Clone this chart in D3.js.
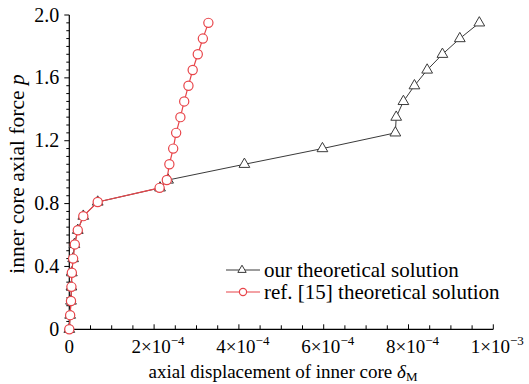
<!DOCTYPE html>
<html>
<head>
<meta charset="utf-8">
<script src="https://cdn.jsdelivr.net/npm/d3@7"></script>
<style>
  body { margin: 0; background: #fff; }
  svg text { font-family: "Times New Roman", "Liberation Serif", Times, serif; }
</style>
</head>
<body>
<svg id="chart" width="529" height="384"></svg>
<script>
// Data (x in units of 1e-4)
const pOur = [0, 0.09, 0.18, 0.27, 0.36, 0.45, 0.54, 0.63, 0.72, 0.81, 0.9, 0.95, 1.05, 1.15, 1.25, 1.35, 1.45, 1.55, 1.65, 1.75, 1.85, 1.95];
const dOur = [0, 0.02, 0.04, 0.05, 0.06, 0.09, 0.12, 0.20, 0.33, 0.67, 2.14, 2.33, 4.13, 5.97, 7.69, 7.71, 7.88, 8.14, 8.44, 8.80, 9.21, 9.67];

const pRef = [0, 0.09, 0.18, 0.27, 0.36, 0.45, 0.54, 0.63, 0.72, 0.81, 0.9, 0.95, 1.05, 1.15, 1.25, 1.35, 1.45, 1.55, 1.65, 1.75, 1.85, 1.95];
const dRef = [0, 0.02, 0.04, 0.05, 0.06, 0.09, 0.13, 0.20, 0.33, 0.67, 2.13, 2.30, 2.36, 2.45, 2.52, 2.62, 2.71, 2.81, 2.91, 3.03, 3.15, 3.28];

const xTickVals = [0, 2, 4, 6, 8, 10];
const xTickLabels = ["0", "2×10", "4×10", "6×10", "8×10", "1×10"];
const xTickExps = ["", "−4", "−4", "−4", "−4", "−3"];
const yTickVals = [0, 0.4, 0.8, 1.2, 1.6, 2.0];
const yTickLabels = ["0", "0.4", "0.8", "1.2", "1.6", "2.0"];

const svg = d3.select("#chart");
const mLeft = 69.3, mRight = 493.3, mTop = 15, mBottom = 329.3;

const x = d3.scaleLinear().domain([0, 10]).range([mLeft, mRight]);
const y = d3.scaleLinear().domain([0, 2]).range([mBottom, mTop]);

const black = "#3a3a3a";
const red = "#e8454a";

// Minor ticks
const xMinor = d3.range(0, 10.001, 0.5);
const yMinor = d3.range(0, 2.001, 0.05);

const xAxis = svg.append("g").attr("transform", `translate(0,${mBottom})`);
xAxis.append("line").attr("x1", mLeft).attr("x2", mRight).attr("stroke", "#000").attr("stroke-width", 1.2);
xAxis.selectAll("line.t").data(xMinor).enter().append("line")
    .attr("class", "t")
    .attr("x1", d => x(d)).attr("x2", d => x(d))
    .attr("y1", 0).attr("y2", d => (Math.abs(d % 2) < 1e-6) ? -5 : -4)
    .attr("stroke", "#000").attr("stroke-width", 1);

const xl = xAxis.selectAll("text.lab").data(xTickVals).enter().append("text")
    .attr("class", "lab")
    .attr("x", d => x(d) + (d > 0 ? 4 : 0))
    .attr("y", 24)
    .attr("text-anchor", "middle")
    .attr("font-size", 19);
xl.append("tspan").text((d, i) => xTickLabels[i]);
xl.append("tspan").attr("dy", -8).attr("font-size", 13).text((d, i) => xTickExps[i]);

const yAxis = svg.append("g").attr("transform", `translate(${mLeft},0)`);
yAxis.append("line").attr("y1", mTop).attr("y2", mBottom + 3).attr("stroke", "#000").attr("stroke-width", 1.2);
yAxis.selectAll("line.t").data(yMinor).enter().append("line")
    .attr("class", "t")
    .attr("y1", d => y(d)).attr("y2", d => y(d))
    .attr("x1", 0).attr("x2", d => (Math.abs((d * 100) % 40) < 1e-3 || Math.abs((d * 100) % 40 - 40) < 1e-3) ? -5 : -3)
    .attr("stroke", "#000").attr("stroke-width", 1);
yAxis.selectAll("text.lab").data(yTickVals).enter().append("text")
    .attr("class", "lab")
    .attr("x", -10)
    .attr("y", d => y(d) + 6.5)
    .attr("text-anchor", "end")
    .attr("font-size", 20)
    .text((d, i) => yTickLabels[i]);

// Axis titles
const xt = svg.append("text").attr("x", 283).attr("y", 378).attr("text-anchor", "middle").attr("font-size", 19);
xt.append("tspan").text("axial displacement of inner core ");
xt.append("tspan").attr("font-style", "italic").text("δ");
xt.append("tspan").attr("font-size", 13).attr("dy", 3).text("M");

const yt = svg.append("text")
    .attr("transform", "translate(24,174) rotate(-90)")
    .attr("text-anchor", "middle").attr("font-size", 21.5);
yt.append("tspan").text("inner core axial force ");
yt.append("tspan").attr("font-style", "italic").text("p");

// Series
const line = d3.line().x(d => x(d[0])).y(d => y(d[1]));
const ourPts = dOur.map((d, i) => [d, pOur[i]]);
const refPts = dRef.map((d, i) => [d, pRef[i]]);
const tri = d3.symbol().type(d3.symbolTriangle).size(50);

svg.append("path").datum(ourPts).attr("d", line).attr("fill", "none").attr("stroke", black).attr("stroke-width", 1);
svg.selectAll("path.tri").data(ourPts).enter().append("path")
    .attr("class", "tri")
    .attr("d", tri)
    .attr("transform", d => `translate(${x(d[0])},${y(d[1])})`)
    .attr("fill", "#fff").attr("stroke", black).attr("stroke-width", 1);

svg.append("path").datum(refPts).attr("d", line).attr("fill", "none").attr("stroke", red).attr("stroke-width", 1.2);
svg.selectAll("circle.ref").data(refPts).enter().append("circle")
    .attr("class", "ref")
    .attr("cx", d => x(d[0])).attr("cy", d => y(d[1]))
    .attr("r", 4.6)
    .attr("fill", "#fff").attr("stroke", red).attr("stroke-width", 1.2);

// Legend
const legend = svg.append("g").attr("transform", "translate(226,270)");
legend.append("line").attr("x1", 0).attr("x2", 34).attr("stroke", black).attr("stroke-width", 1);
legend.append("path").attr("d", d3.symbol().type(d3.symbolTriangle).size(30)).attr("transform", "translate(16,0)")
    .attr("fill", "#fff").attr("stroke", black);
legend.append("text").attr("x", 38).attr("y", 7).attr("font-size", 21).text("our theoretical solution");
legend.append("line").attr("x1", 0).attr("x2", 34).attr("y1", 22).attr("y2", 22).attr("stroke", red).attr("stroke-width", 1.2);
legend.append("circle").attr("cx", 17).attr("cy", 22).attr("r", 3.6).attr("fill", "#fff").attr("stroke", red).attr("stroke-width", 1.2);
legend.append("text").attr("x", 38).attr("y", 29).attr("font-size", 21).text("ref. [15] theoretical solution");
</script>
</body>
</html>
